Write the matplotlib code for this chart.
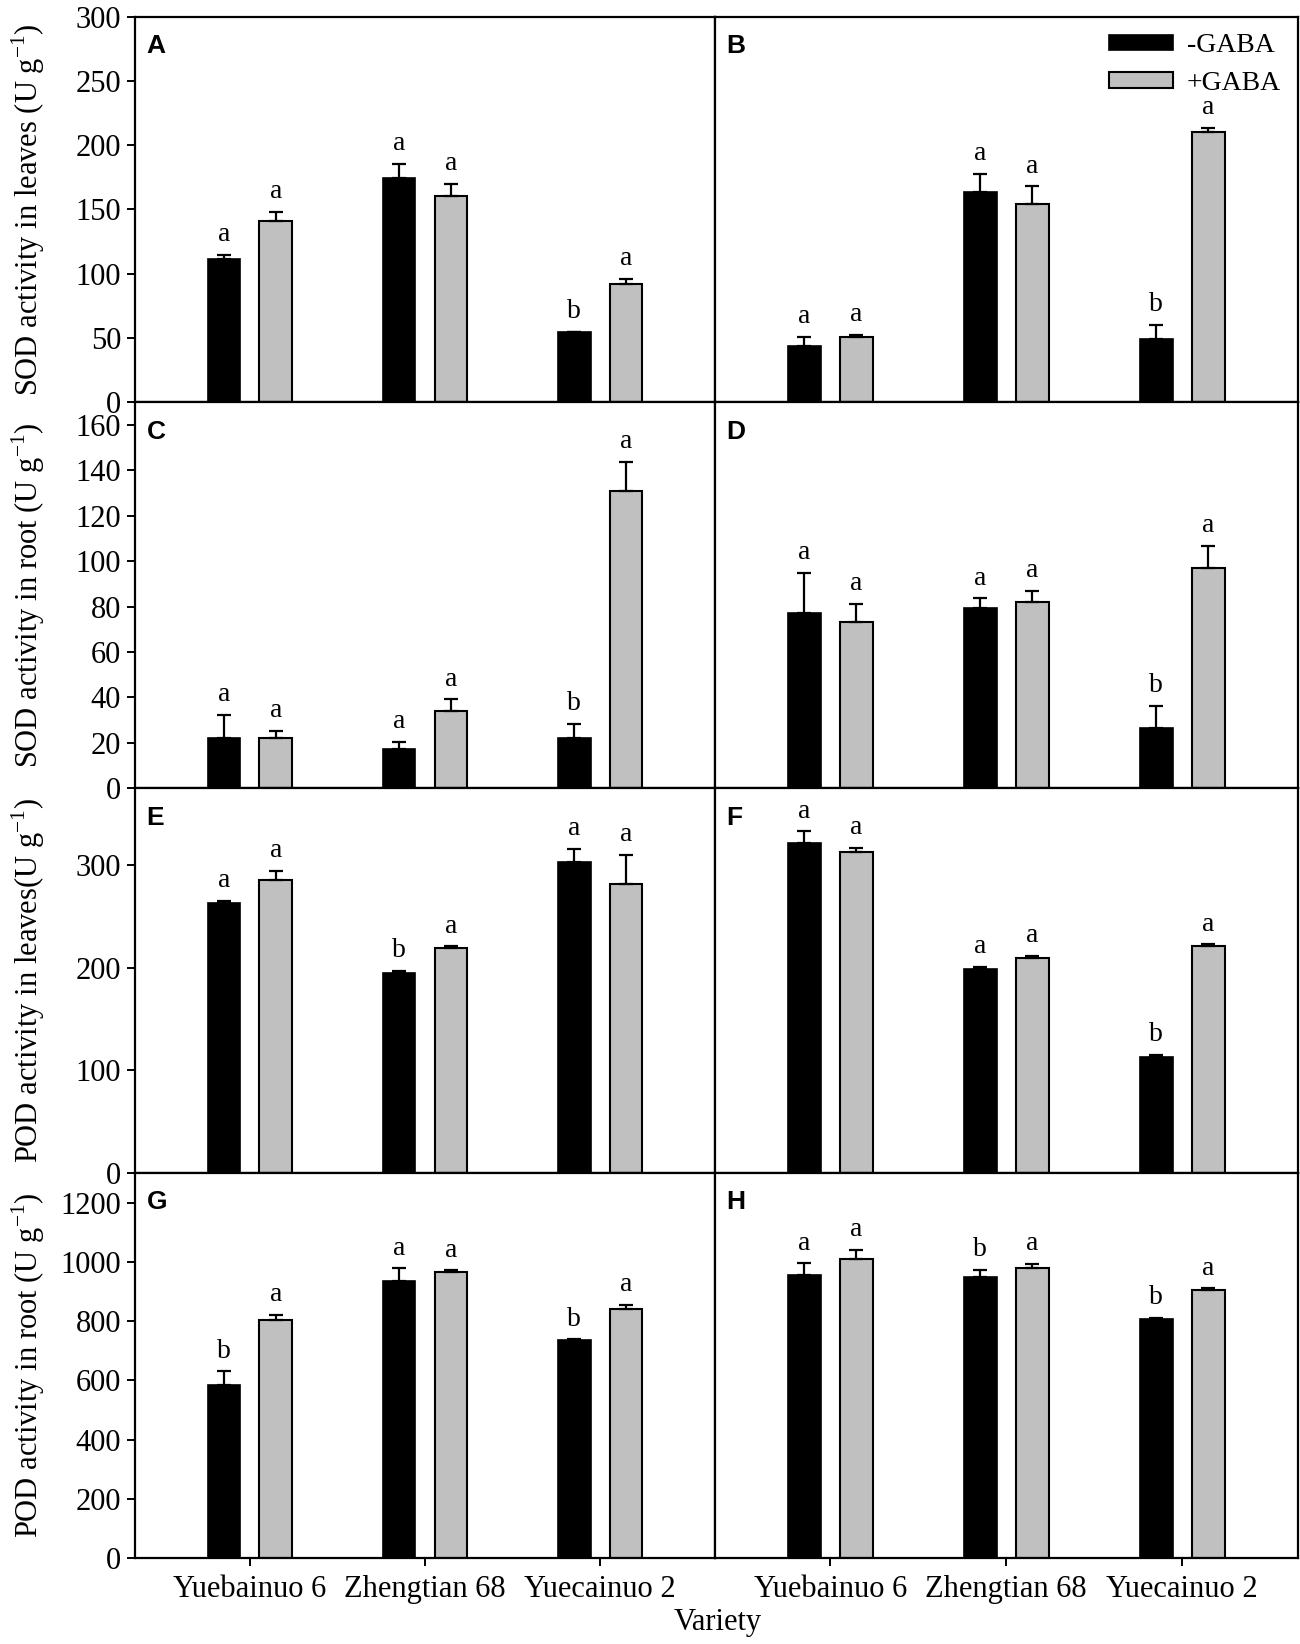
import matplotlib
matplotlib.use("Agg")
import matplotlib.pyplot as plt
import numpy as np
from matplotlib.patches import Patch

varieties = ["Yuebainuo 6", "Zhengtian 68", "Yuecainuo 2"]
series_names = ["-GABA", "+GABA"]

# Panel values (minus GABA, plus GABA), error bars, significance letters
A_minus = [111.5, 174.5, 54.5];  A_minus_err = [3, 11, 0.5]
A_plus = [141.3, 160.7, 91.8];   A_plus_err = [7, 9, 4]
A_minus_let = ["a", "a", "b"];   A_plus_let = ["a", "a", "a"]

B_minus = [44, 164, 49];         B_minus_err = [7, 14, 11]
B_plus = [51, 154.5, 210];       B_plus_err = [1.5, 13.5, 3.5]
B_minus_let = ["a", "a", "b"];   B_plus_let = ["a", "a", "a"]

C_minus = [22.3, 17.3, 22.3];    C_minus_err = [10, 3, 6]
C_plus = [22.3, 34.2, 131];      C_plus_err = [3, 5, 12.8]
C_minus_let = ["a", "a", "b"];   C_plus_let = ["a", "a", "a"]

D_minus = [77.3, 79.3, 26.4];    D_minus_err = [17.6, 4.4, 9.8]
D_plus = [73.1, 82.2, 96.9];     D_plus_err = [8, 4.7, 10]
D_minus_let = ["a", "a", "b"];   D_plus_let = ["a", "a", "a"]

E_minus = [263, 195, 303];       E_minus_err = [2, 2, 13]
E_plus = [285.6, 219, 282];      E_plus_err = [9, 2, 28]
E_minus_let = ["a", "b", "a"];   E_plus_let = ["a", "a", "a"]

F_minus = [322, 198.8, 113];     F_minus_err = [11, 2, 2]
F_plus = [313, 210, 221];        F_plus_err = [4, 2, 2]
F_minus_let = ["a", "a", "b"];   F_plus_let = ["a", "a", "a"]

G_minus = [584, 936, 735];       G_minus_err = [46, 42, 3]
G_plus = [805, 965, 840];        G_plus_err = [15, 6, 15]
G_minus_let = ["b", "a", "b"];   G_plus_let = ["a", "a", "a"]

H_minus = [957, 949, 806];       H_minus_err = [38, 23, 6]
H_plus = [1011, 978, 905];       H_plus_err = [30, 15, 6]
H_minus_let = ["a", "b", "b"];   H_plus_let = ["a", "a", "a"]

ylabels = ["SOD activity in leaves (U g$^{\\mathregular{-1}}$)",
           "SOD activity in root (U g$^{\\mathregular{-1}}$)",
           "POD activity in leaves(U g$^{\\mathregular{-1}}$)",
           "POD activity in root (U g$^{\\mathregular{-1}}$)"]
row_ylims = [(0, 300), (0, 170), (0, 375), (0, 1300)]
row_yticks = [list(range(0, 301, 50)), list(range(0, 161, 20)),
              [0, 100, 200, 300], list(range(0, 1201, 200))]
xlabel = "Variety"

panels = [
    ("A", A_minus, A_minus_err, A_plus, A_plus_err, A_minus_let, A_plus_let),
    ("B", B_minus, B_minus_err, B_plus, B_plus_err, B_minus_let, B_plus_let),
    ("C", C_minus, C_minus_err, C_plus, C_plus_err, C_minus_let, C_plus_let),
    ("D", D_minus, D_minus_err, D_plus, D_plus_err, D_minus_let, D_plus_let),
    ("E", E_minus, E_minus_err, E_plus, E_plus_err, E_minus_let, E_plus_let),
    ("F", F_minus, F_minus_err, F_plus, F_plus_err, F_minus_let, F_plus_let),
    ("G", G_minus, G_minus_err, G_plus, G_plus_err, G_minus_let, G_plus_let),
    ("H", H_minus, H_minus_err, H_plus, H_plus_err, H_minus_let, H_plus_let),
]

W, H = 1300, 1644
fig = plt.figure(figsize=(W / 100, H / 100), dpi=100)
serif = ["Liberation Serif", "DejaVu Serif"]
sans = ["Liberation Sans", "DejaVu Sans"]

x_left, x_mid, x_right = 135, 715, 1297.5
row_edges = [16.7, 402.3, 788.3, 1173.0, 1558.0]

black = "#000000"
gray = "#c0c0c0"
bw = 0.186
off = 0.148
x = np.arange(len(varieties))

for i, (letter, mv, me, pv, pe, ml, pl) in enumerate(panels):
    row, col = divmod(i, 2)
    x0 = x_left if col == 0 else x_mid
    x1 = x_mid if col == 0 else x_right
    y_top, y_bot = row_edges[row], row_edges[row + 1]
    ax = fig.add_axes([x0 / W, 1 - y_bot / H, (x1 - x0) / W, (y_bot - y_top) / H])
    ymin, ymax = row_ylims[row]
    ax.bar(x - off, mv, width=bw, color=black, edgecolor=black, linewidth=1.2, zorder=2)
    ax.bar(x + off, pv, width=bw, color=gray, edgecolor=black, linewidth=1.5, zorder=2)
    ax.errorbar(x - off, mv, yerr=[np.zeros(3), me], fmt="none", ecolor=black,
                elinewidth=1.6, capsize=5, capthick=1.6, zorder=3)
    ax.errorbar(x + off, pv, yerr=[np.zeros(3), pe], fmt="none", ecolor=black,
                elinewidth=1.6, capsize=5, capthick=1.6, zorder=3)
    pad = (ymax - ymin) * 0.02
    for xi, v, e, t in zip(x - off, mv, me, ml):
        ax.text(xi, v + e + pad, t, ha="center", va="bottom", fontsize=20, family=serif)
    for xi, v, e, t in zip(x + off, pv, pe, pl):
        ax.text(xi, v + e + pad, t, ha="center", va="bottom", fontsize=20, family=serif)
    ax.set_xlim(-0.655, 2.655)
    ax.set_ylim(ymin, ymax)
    for s in ax.spines.values():
        s.set_linewidth(1.6)
    ax.text(0.02, 0.955, letter, transform=ax.transAxes, ha="left", va="top",
            fontsize=19, fontweight="bold", family=sans)
    if col == 0:
        ax.set_yticks(row_yticks[row])
        ax.tick_params(axis="y", direction="out", length=6, width=1.4, labelsize=22, pad=4)
        for lab in ax.get_yticklabels():
            lab.set_family(serif)
    else:
        ax.set_yticks([])
    if row == 3:
        ax.set_xticks(x)
        ax.set_xticklabels(varieties)
        ax.tick_params(axis="x", direction="out", length=6, width=1.4, labelsize=22, pad=6)
        for lab in ax.get_xticklabels():
            lab.set_family(serif)
    else:
        ax.set_xticks([])
    if letter == "B":
        handles = [Patch(facecolor=black, edgecolor=black, linewidth=1.2),
                   Patch(facecolor=gray, edgecolor=black, linewidth=1.5)]
        ax.legend(handles, series_names, loc="upper right", frameon=False,
                  prop={"family": serif, "size": 20}, handlelength=2.3, handleheight=0.5,
                  handletextpad=0.5, labelspacing=0.45, borderaxespad=0.2)

for row in range(4):
    yc = (row_edges[row] + row_edges[row + 1]) / 2
    fig.text(28 / W, 1 - yc / H, ylabels[row], rotation=90, ha="center", va="center",
             fontsize=22, family=serif)

fig.text(718 / W, 1 - 1622 / H, xlabel, ha="center", va="center", fontsize=22, family=serif)

fig.savefig("out.png", dpi=100)
